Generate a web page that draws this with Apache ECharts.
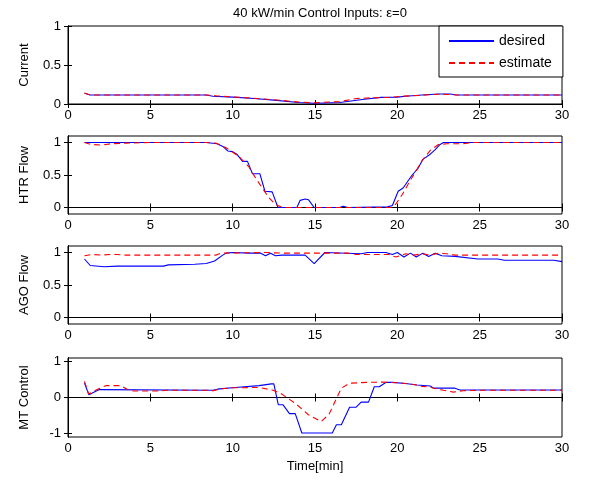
<!DOCTYPE html>
<html>
<head>
<meta charset="utf-8">
<script src="https://cdn.jsdelivr.net/npm/echarts@6/dist/echarts.min.js"></script>
<style>html,body{margin:0;padding:0;background:#fff}#c{width:615px;height:482px}</style>
</head>
<body>
<div id="c"></div>
<script>
// ---- data: [time(min), value] ----
const xTicks = [0, 5, 10, 15, 20, 25, 30];
const panelNames = ["Current", "HTR Flow", "AGO Flow", "MT Control"];
const seriesNames = ["desired", "estimate"];

const currentDesired = [[1,0.137],[1.35,0.115],[8.4,0.115],[8.8,0.1],[10,0.088],[11.3,0.07],[12.5,0.05],[14,0.02],[15,0.01],[16.5,0.02],[18,0.06],[19,0.085],[20,0.088],[20.5,0.1],[21.5,0.115],[22.5,0.128],[23.2,0.128],[23.6,0.115],[30,0.115]];
const currentEstimate = [[1,0.14],[1.35,0.115],[8.4,0.115],[9,0.105],[10,0.09],[11.2,0.075],[12.5,0.055],[14,0.025],[15,0.015],[15.8,0.025],[16.5,0.03],[17.5,0.07],[18.5,0.08],[19.5,0.085],[20.3,0.1],[21.3,0.11],[22.5,0.125],[23.3,0.12],[23.6,0.115],[30,0.115]];

const htrDesired = [[1,1],[8.4,1],[9.05,0.98],[9.4,0.94],[9.7,0.87],[10,0.86],[10.25,0.82],[10.6,0.71],[10.9,0.71],[11.2,0.52],[11.65,0.52],[11.96,0.25],[12.4,0.24],[12.75,0],[13.9,0],[14.1,0.11],[14.4,0.13],[14.6,0.12],[14.95,0],[16.5,0],[16.7,0.02],[17,0],[19.4,0.01],[19.7,0.03],[20.05,0.25],[20.35,0.3],[20.9,0.5],[21.25,0.6],[21.55,0.74],[22,0.82],[22.3,0.89],[22.6,0.97],[22.8,1],[30,1]];
const htrEstimate = [[1,1],[1.4,0.97],[2.05,0.96],[2.6,0.98],[3.5,0.99],[5,1],[8.4,1],[9,0.99],[9.6,0.92],[10,0.85],[10.4,0.78],[11,0.62],[11.4,0.45],[11.8,0.3],[12.2,0.15],[12.6,0.05],[13,0],[19.6,0],[19.9,0.05],[20.3,0.2],[20.7,0.38],[21.1,0.55],[21.5,0.72],[22,0.88],[22.5,0.97],[23,0.98],[24,0.98],[24.5,1],[30,1]];

const agoDesired = [[1,0.9],[1.35,0.8],[2.2,0.78],[3,0.79],[5.8,0.79],[6.1,0.81],[7.7,0.82],[8.4,0.83],[8.9,0.87],[9.4,0.96],[9.6,0.99],[10,1],[11,0.99],[11.7,0.99],[12,0.95],[12.3,0.99],[12.6,0.95],[13,0.96],[14.4,0.96],[14.95,0.83],[15.6,1],[17.8,0.98],[18.2,1],[19.3,1],[19.7,0.97],[20,1],[20.4,0.93],[20.8,0.99],[21.15,0.93],[21.55,0.99],[21.9,0.94],[22.3,0.99],[22.7,0.95],[23.5,0.94],[24.9,0.9],[26.1,0.9],[26.5,0.88],[29.5,0.88],[30,0.86]];
const agoEstimate = [[1,0.95],[1.5,0.97],[2,0.96],[2.5,0.97],[3,0.97],[3.5,0.96],[9,0.96],[9.3,0.99],[12,1],[13,0.99],[17,0.99],[17.5,0.97],[19.5,0.97],[19.9,0.93],[20.5,0.98],[21,0.96],[21.5,0.98],[22,0.96],[22.5,0.99],[23,0.98],[23.5,0.96],[30,0.96]];

const mtDesired = [[1,0.4],[1.27,0.075],[1.9,0.22],[8.8,0.2],[9.2,0.24],[10.15,0.28],[11.6,0.33],[12.35,0.38],[12.5,0.38],[12.77,-0.2],[13.05,-0.2],[13.45,-0.45],[13.8,-0.45],[14.2,-0.99],[16.05,-0.99],[16.3,-0.76],[16.6,-0.76],[17.1,-0.27],[17.5,-0.27],[17.8,-0.13],[18.25,-0.13],[18.6,0.3],[18.9,0.3],[19.3,0.42],[19.7,0.42],[20.5,0.39],[21.2,0.35],[22,0.32],[22.2,0.26],[23.5,0.26],[23.8,0.21],[30,0.21]];
const mtEstimate = [[1,0.45],[1.25,0.1],[1.9,0.25],[2.3,0.33],[3.2,0.33],[3.7,0.2],[4,0.18],[5.5,0.18],[6,0.2],[8.5,0.2],[8.7,0.18],[9.3,0.24],[10,0.27],[11.6,0.28],[12.4,0.21],[12.9,0.12],[13.8,-0.16],[14.6,-0.48],[15.37,-0.67],[15.85,-0.47],[16.6,0.26],[17.1,0.4],[18.15,0.42],[19.1,0.43],[20.1,0.41],[21,0.36],[21.5,0.31],[22,0.29],[22.2,0.26],[22.8,0.2],[23.4,0.15],[24,0.19],[25,0.2],[30,0.2]];

const yRanges = [[0, 1], [-0.1, 1.1], [-0.1, 1.1], [-1.1, 1.1]];
const yTickValues = [[0, 0.5, 1], [0, 0.5, 1], [0, 0.5, 1], [-1, 0, 1]];
const panelData = [
  [currentDesired, currentEstimate],
  [htrDesired, htrEstimate],
  [agoDesired, agoEstimate],
  [mtDesired, mtEstimate]
];

// ---- layout ----
const FONT = "Liberation Sans";
const gridTops = [26, 136, 246, 358];
const gridHeights = [78, 78, 78, 79];
const grids = [], xAxes = [], yAxes = [], series = [];
const tickStyle = {show: true, inside: true, length: 4, lineStyle: {color: '#000', width: 1}};
const lineStyle = {show: true, lineStyle: {color: '#000', width: 1}};

for (let i = 0; i < 4; i++) {
  grids.push({left: 68, width: 494, top: gridTops[i], height: gridHeights[i], show: true, borderColor: '#000', borderWidth: 1, backgroundColor: '#fff'});
  xAxes.push({gridIndex: i, type: 'value', min: 0, max: 30, interval: 5, position: 'bottom',
    axisLine: lineStyle, axisTick: tickStyle, splitLine: {show: false},
    axisLabel: {color: '#000', fontFamily: FONT, fontSize: 13, margin: 5, showMinLabel: true, showMaxLabel: true},
    name: i === 3 ? 'Time[min]' : '', nameLocation: 'middle', nameGap: 23,
    nameTextStyle: {color: '#000', fontFamily: FONT, fontSize: 13}});
  xAxes.push({gridIndex: i, type: 'value', min: 0, max: 30, interval: 5, position: 'top',
    axisLine: lineStyle, axisTick: tickStyle, splitLine: {show: false}, axisLabel: {show: false}});
  const yr = yRanges[i];
  yAxes.push({gridIndex: i, type: 'value', min: yr[0], max: yr[1], position: 'left',
    axisLine: lineStyle, splitLine: {show: false},
    axisTick: Object.assign({}, tickStyle, {customValues: yTickValues[i]}),
    axisLabel: {color: '#000', fontFamily: FONT, fontSize: 13, margin: 7, customValues: yTickValues[i]},
    name: panelNames[i], nameLocation: 'middle', nameGap: 37,
    nameTextStyle: {color: '#000', fontFamily: FONT, fontSize: 13}});
  yAxes.push({gridIndex: i, type: 'value', min: yr[0], max: yr[1], position: 'right',
    axisLine: lineStyle, splitLine: {show: false},
    axisTick: Object.assign({}, tickStyle, {customValues: yTickValues[i]}),
    axisLabel: {show: false}});

  series.push({name: seriesNames[0], type: 'line', xAxisIndex: 2 * i, yAxisIndex: 2 * i,
    data: panelData[i][0], showSymbol: false, symbol: 'none', z: 3,
    lineStyle: {color: '#0000ff', width: 1.1}, itemStyle: {color: '#0000ff'}});
  series.push({name: seriesNames[1], type: 'line', xAxisIndex: 2 * i, yAxisIndex: 2 * i,
    data: panelData[i][1], showSymbol: false, symbol: 'none', z: 4,
    lineStyle: {color: '#ff0000', width: 1.1, type: [6, 4]}, itemStyle: {color: '#ff0000'}});
}

const chart = echarts.init(document.getElementById('c'), null, {renderer: 'canvas'});
chart.setOption({
  animation: false,
  backgroundColor: '#fff',
  title: {text: '40 kW/min Control Inputs: ε=0', left: 315, top: 2, textAlign: 'center',
    textStyle: {color: '#000', fontFamily: FONT, fontSize: 13, fontWeight: 'normal'}},
  legend: {data: seriesNames, orient: 'vertical', left: 439, top: 26,
    padding: [8, 11, 7, 9], itemGap: 8, itemWidth: 45, itemHeight: 12,
    itemStyle: {opacity: 0, color: 'transparent', borderWidth: 0},
    backgroundColor: '#fff', borderColor: '#000', borderWidth: 1, borderRadius: 0,
    textStyle: {color: '#000', fontFamily: FONT, fontSize: 14}},
  grid: grids,
  xAxis: xAxes,
  yAxis: yAxes,
  series: series
});
</script>
</body>
</html>
